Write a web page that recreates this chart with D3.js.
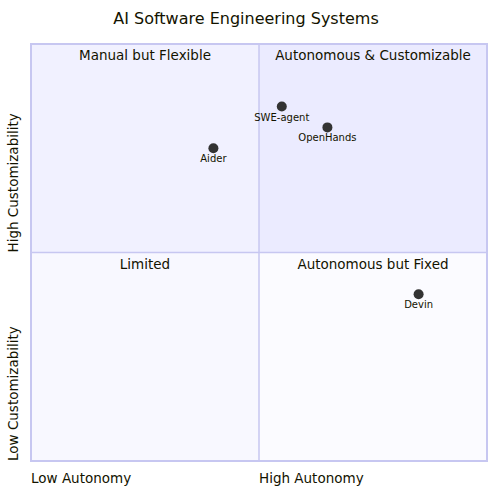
<!DOCTYPE html>
<html><head><meta charset="utf-8">
<script src="https://cdn.jsdelivr.net/npm/d3@7"></script>
<style>body{margin:0;background:#fff}text{font-family:"DejaVu Sans",sans-serif;fill:#131300}</style>
</head><body><svg id="c" width="500" height="500"></svg>
<script>
const title = "AI Software Engineering Systems";
const pointNames = ["SWE-agent","OpenHands","Aider","Devin"];
const pointX = [0.55,0.65,0.40,0.85];
const pointY = [0.85,0.80,0.75,0.40];
const quadrantLabels = ["Autonomous & Customizable","Manual but Flexible","Limited","Autonomous but Fixed"];
const xAxisLabels = ["Low Autonomy","High Autonomy"];
const yAxisLabels = ["Low Customizability","High Customizability"];

const svg = d3.select("#c");
const x = d3.scaleLinear().domain([0,1]).range([31,487]);
const y = d3.scaleLinear().domain([0,1]).range([461,44]);

svg.append("text").attr("x",246).attr("y",24).attr("text-anchor","middle").attr("font-size",16).text(title);

const quads = [
  {x0:0.5,y0:0.5,fill:"#ebebff",label:quadrantLabels[0]},
  {x0:0,y0:0.5,fill:"#f1f1ff",label:quadrantLabels[1]},
  {x0:0,y0:0,fill:"#f8f8ff",label:quadrantLabels[2]},
  {x0:0.5,y0:0,fill:"#fbfbff",label:quadrantLabels[3]}
];
quads.forEach(q=>{
  svg.append("rect").attr("x",x(q.x0)).attr("y",y(q.y0+0.5)).attr("width",x(0.5)-x(0)).attr("height",y(0)-y(0.5)).attr("fill",q.fill);
  svg.append("text").attr("x",x(q.x0+0.25)).attr("y",y(q.y0+0.5)+16).attr("text-anchor","middle").attr("font-size",13.5).text(q.label);
});
const bc="#c7c7f1";
svg.append("rect").attr("x",x(0)).attr("y",y(1)).attr("width",x(1)-x(0)).attr("height",y(0)-y(1)).attr("fill","none").attr("stroke",bc).attr("stroke-width",2);
svg.append("line").attr("x1",x(0.5)).attr("x2",x(0.5)).attr("y1",y(0)).attr("y2",y(1)).attr("stroke",bc).attr("stroke-width",1.5);
svg.append("line").attr("x1",x(0)).attr("x2",x(1)).attr("y1",y(0.5)).attr("y2",y(0.5)).attr("stroke",bc).attr("stroke-width",1.5);

xAxisLabels.forEach((t,i)=>svg.append("text").attr("x",x(i*0.5)).attr("y",483).attr("font-size",13.5).text(t));
yAxisLabels.forEach((t,i)=>svg.append("text").attr("transform",`translate(18,${y(i*0.5)}) rotate(-90)`).attr("font-size",13.5).text(t));

pointNames.forEach((n,i)=>{
  svg.append("circle").attr("cx",x(pointX[i])).attr("cy",y(pointY[i])).attr("r",5).attr("fill","#333");
  svg.append("text").attr("x",x(pointX[i])).attr("y",y(pointY[i])+14).attr("text-anchor","middle").attr("font-size",10).text(n);
});
</script></body></html>
